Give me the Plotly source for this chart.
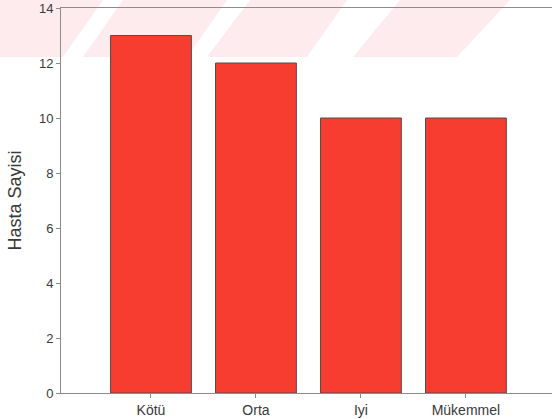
import plotly.graph_objects as go

categories = ["Kötü", "Orta", "Iyi", "Mükemmel"]
values = [13, 12, 10, 10]
y_ticks = [0, 2, 4, 6, 8, 10, 12, 14]

W, H = 552, 419
L, T, R, B = 61, 8, 0, 26
pw, ph = W - L - R, H - T - B

def px(x):
    return (x - L) / pw

def py(y):
    return (H - B - y) / ph

# faint pink scan watermark (decoration)
stripes = [
    [(0, 57), (63, 57), (103, 0), (0, 0)],
    [(83, 57), (187, 57), (227, 0), (123, 0)],
    [(207, 57), (307, 57), (347, 0), (250, 0)],
    [(353, 57), (457, 57), (510, 0), (400, 0)],
]
shapes = []
for poly in stripes:
    path = "M " + " L ".join(f"{px(x):.4f},{py(y):.4f}" for x, y in poly) + " Z"
    shapes.append(dict(type="path", xref="paper", yref="paper", path=path,
                       fillcolor="#fdebed", line=dict(width=0), layer="below"))

fig = go.Figure(go.Bar(
    x=categories, y=values,
    marker=dict(color="#f63d2f", line=dict(color="#5a4a48", width=1)),
))

fig.update_layout(
    width=W, height=H,
    margin=dict(l=L, r=R, t=T, b=B),
    paper_bgcolor="white", plot_bgcolor="rgba(0,0,0,0)",
    bargap=0.23,
    showlegend=False,
    shapes=shapes,
    font=dict(family="Liberation Sans, Arial, sans-serif", color="#3a3a3a", size=13),
)
fig.update_xaxes(
    range=[-0.857, 3.82],
    showline=True, linecolor="#8c8c8c", linewidth=1, mirror=True,
    ticks="outside", ticklen=4, tickcolor="#8c8c8c",
    showgrid=False, zeroline=False,
    tickfont=dict(size=14),
)
fig.update_yaxes(
    range=[0, 14], tickvals=y_ticks,
    showline=True, linecolor="#8c8c8c", linewidth=1,
    ticks="outside", ticklen=4, tickcolor="#8c8c8c",
    showgrid=False, zeroline=False,
    tickfont=dict(size=13),
    title=dict(text="Hasta Sayisi", font=dict(size=18), standoff=12),
)

fig.write_html("out.html", config={"displayModeBar": False},
               post_script="document.body.style.margin='0';")
